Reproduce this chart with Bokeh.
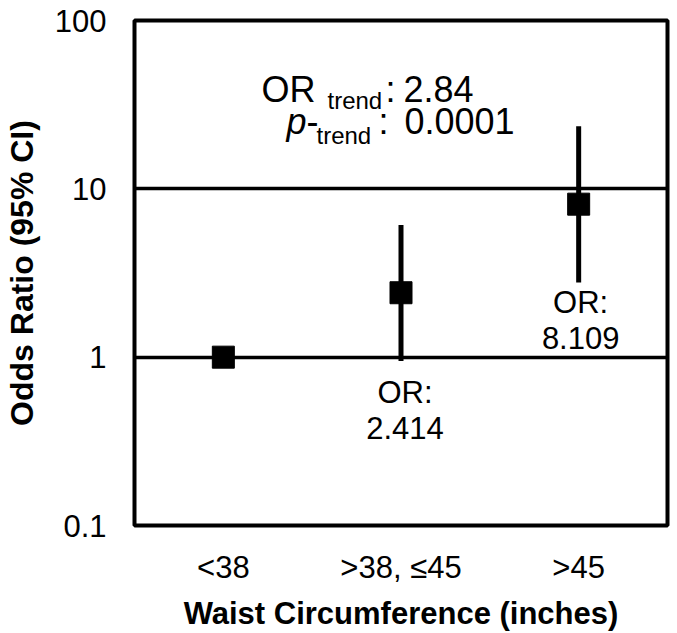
from bokeh.plotting import figure
from bokeh.models import FixedTicker, Label, ColumnDataSource, FactorRange, CustomJSTickFormatter
from bokeh.core.properties import value
from bokeh.embed import file_html
from bokeh.resources import INLINE

# ---- data ----
categories = ["<38", ">38, \u226445", ">45"]
odds_ratio = [1.0, 2.414, 8.109]
ci_lower = [1.0, 0.95, 2.78]
ci_upper = [1.0, 6.1, 23.5]
or_text = ["", "OR:\n2.414", "OR:\n8.109"]
y_ticks = [0.1, 1, 10, 100]
or_trend = "2.84"
p_trend = "0.0001"

FONT = "Liberation Sans"
FW, FH = 533, 505
LEFT, TOP = 127, 20

p = figure(x_range=FactorRange(*categories), y_axis_type="log", y_range=(0.1, 100),
           frame_width=FW, frame_height=FH,
           min_border_left=LEFT, min_border_top=TOP, min_border_right=6, min_border_bottom=100,
           output_backend="svg", toolbar_location=None)

p.background_fill_color = "white"
p.border_fill_color = "white"
p.outline_line_color = "black"
p.outline_line_width = 4

# grid
p.xgrid.grid_line_color = None
p.ygrid.ticker = FixedTicker(ticks=y_ticks)
p.ygrid.grid_line_color = "black"
p.ygrid.grid_line_width = 3.5
p.yaxis.ticker = FixedTicker(ticks=y_ticks, minor_ticks=[])
p.yaxis.formatter = CustomJSTickFormatter(code="return String(parseFloat(tick.toPrecision(3)));")

for ax in (p.xaxis[0], p.yaxis[0]):
    ax.axis_line_color = None
    ax.major_tick_line_color = None
    ax.minor_tick_line_color = None
    ax.major_tick_out = 0
    ax.major_tick_in = 0
    ax.major_label_text_font = FONT
    ax.major_label_text_font_size = "31px"
    ax.major_label_text_color = "black"
    ax.axis_label_text_font = FONT
    ax.axis_label_text_font_style = "bold"
    ax.axis_label_text_color = "black"

p.yaxis.major_label_standoff = 28
p.xaxis.major_label_standoff = 24
p.yaxis.axis_label = "Odds Ratio (95% CI)"
p.xaxis.axis_label = "Waist Circumference (inches)"
p.yaxis.axis_label_text_font_size = "32px"
p.xaxis.axis_label_text_font_size = "31px"
p.yaxis.axis_label_standoff = 12
p.xaxis.axis_label_standoff = 8

src = ColumnDataSource(dict(cat=categories, orv=odds_ratio, lo=ci_lower, hi=ci_upper,
                            lab=or_text, xo=[0, 4, 2], yo=[0, 14, 3]))

p.segment(x0="cat", y0="lo", x1="cat", y1="hi", source=src, line_color="black", line_width=5)
p.scatter(x="cat", y="orv", source=src, marker="square", size=22, fill_color="black", line_color="black")
p.text(x="cat", y="lo", text="lab", source=src, x_offset="xo", y_offset="yo",
       text_align="center", text_baseline="top", text_font=value(FONT),
       text_font_size="31px", text_color="black", text_line_height=1.03)

# annotation placed from page pixel positions of the reference
def to_data(px, py):
    s = (px - (LEFT + 8)) / FW * len(categories)
    v = 10 ** (2 - (py - TOP) / FH * 3)
    return s, v

def add_label(txt, px, py, size, style="normal"):
    x, y = to_data(px, py - 0.31 * size)
    p.add_layout(Label(x=x, y=y, text=txt, text_font=FONT, text_font_size=f"{size}px",
                       text_font_style=style, text_align="left", text_baseline="alphabetic",
                       text_color="black"))

add_label("OR", 262, 100, 36)
add_label("trend", 328, 107, 24)
add_label(":", 386, 100, 36)
add_label(or_trend, 404, 100, 36)
add_label("p", 287, 132, 36, "italic")
add_label("-", 307, 132, 36)
add_label("trend", 317, 142, 24)
add_label(":", 379, 132, 36)
add_label(p_trend, 405, 132, 36)

open("out.html", "w").write(file_html(p, INLINE))
